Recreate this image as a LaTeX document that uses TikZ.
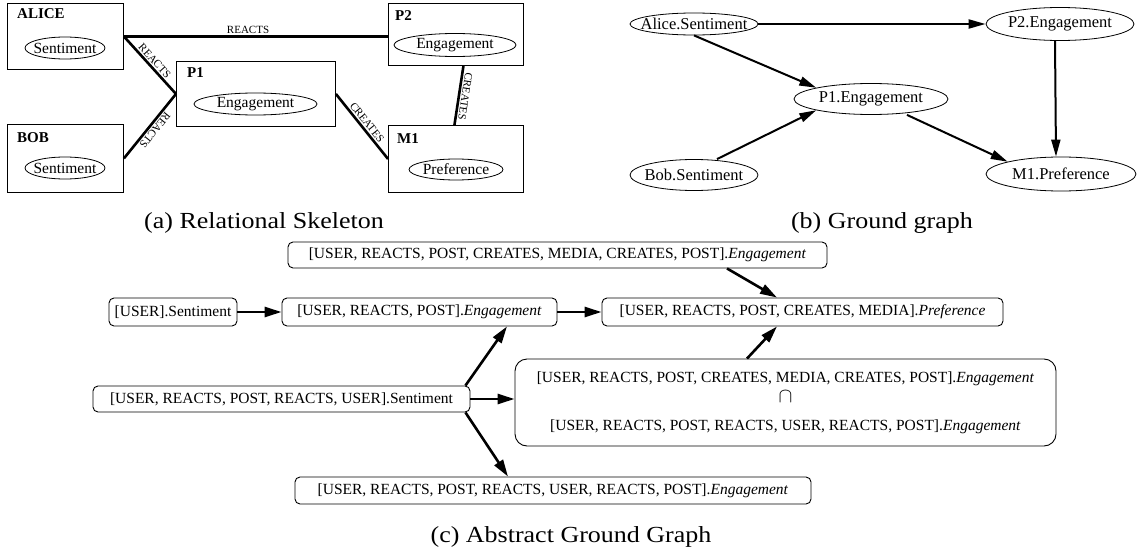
\documentclass[tikz,border=0pt]{standalone}
\usepackage{fontspec}
\setmainfont{Liberation Serif}
\newfontfamily\capfont{Liberation Serif}[FakeStretch=1.13]
\usetikzlibrary{arrows.meta,shapes.geometric,calc}
\begin{document}
\begin{tikzpicture}[x=1pt,y=-1pt,
  skbox/.style={draw, line width=0.9pt, inner sep=0pt, anchor=north west},
  skell/.style={draw, ellipse, line width=0.8pt, inner xsep=-40pt, inner ysep=-12pt, font=\fontsize{15.5}{18}\selectfont},
  sktitle/.style={anchor=base west, inner sep=0pt, font=\fontsize{15}{18}\selectfont\bfseries},
  skedge/.style={line width=2.6pt},
  sklbl/.style={font=\fontsize{11}{13}\selectfont, inner sep=1.5pt},
  gnode/.style={draw, ellipse, line width=0.8pt, inner xsep=-40pt, inner ysep=-12pt, font=\fontsize{16.5}{20}\selectfont},
  garrow/.style={line width=2pt, -{Triangle[length=17pt,width=9pt]}},
  abox/.style={draw, rounded corners=5pt, line width=0.9pt, inner sep=0pt, font=\fontsize{15.5}{18}\selectfont},
  aarrow/.style={line width=2.6pt, -{Triangle[length=17pt,width=10pt]}},
  captxt/.style={font=\capfont\fontsize{23}{28}\selectfont, inner sep=0pt}
]
\useasboundingbox (0,0) rectangle (1141,554);

% ---------- (a) Relational skeleton ----------
\node[skbox, minimum width=116pt, minimum height=66pt] (boxA) at (7,3) {};
\node[sktitle] (tA) at (17,18) {ALICE};
\node[skell, minimum width=80pt, minimum height=22pt] (eA) at (65,48) {Sentiment};
\node[skbox, minimum width=116pt, minimum height=68pt] (boxB) at (7,124) {};
\node[sktitle] (tB) at (17,142) {BOB};
\node[skell, minimum width=80pt, minimum height=22pt] (eB) at (65,168) {Sentiment};
\node[skbox, minimum width=159pt, minimum height=65pt] (boxP1) at (176,61) {};
\node[sktitle] (tP1) at (187,77) {P1};
\node[skell, minimum width=123pt, minimum height=22pt] (eP1) at (255.5,104) {Engagement};
\node[skbox, minimum width=135pt, minimum height=62pt] (boxP2) at (388,3) {};
\node[sktitle] (tP2) at (395,20) {P2};
\node[skell, minimum width=122pt, minimum height=23pt] (eP2) at (455,45) {Engagement};
\node[skbox, minimum width=135pt, minimum height=67pt] (boxM1) at (388,125) {};
\node[sktitle] (tM1) at (397,143) {M1};
\node[skell, minimum width=94pt, minimum height=21pt] (eM1) at (456,169.5) {Preference};

\draw[skedge] (boxA.east) -- node[sklbl, above, pos=0.47] {REACTS} (boxA.east -| boxP2.west);
\draw[skedge] (boxA.east) -- node[sklbl, sloped, above] {REACTS} (boxP1.west);
\draw[skedge] (boxP1.west) -- node[sklbl, sloped, above, allow upside down] {REACTS} (boxB.east);
\draw[skedge] (boxP1.east) -- node[sklbl, sloped, above] {CREATES} (boxM1.west);
\draw[skedge] ([xshift=7.5pt]boxP2.south) -- node[sklbl, sloped, above, allow upside down] {CREATES} ([xshift=-1.5pt]boxM1.north);

% ---------- (b) Ground graph ----------
\node[gnode, minimum width=128pt, minimum height=22pt] (gA) at (694,24) {Alice.Sentiment};
\node[gnode, minimum width=148pt, minimum height=33pt] (gP2) at (1060,24) {P2.Engagement};
\node[gnode, minimum width=154pt, minimum height=31pt] (gP1) at (871,99) {P1.Engagement};
\node[gnode, minimum width=128pt, minimum height=31pt] (gB) at (694,175) {Bob.Sentiment};
\node[gnode, minimum width=150pt, minimum height=34pt] (gM1) at (1061,174) {M1.Preference};

\draw[garrow] (gA.east) -- (gP2.west);
\draw[garrow] (gA.south) -- (gP1.north west);
\draw[garrow] ([xshift=23pt]gB.north) -- (gP1.south west);
\draw[garrow] ([xshift=36pt]gP1.south) -- (gM1.north west);
\draw[garrow] ([xshift=-5pt]gP2.south) -- ([xshift=-5pt]gM1.north);

% ---------- (c) Abstract ground graph ----------
\node[abox, minimum width=539pt, minimum height=26pt] (cTop) at (557.5,255) {[USER, REACTS, POST, CREATES, MEDIA, CREATES, POST].\textit{Engagement}};
\node[abox, minimum width=128pt, minimum height=28pt] (cS1) at (173,312) {[USER].Sentiment};
\node[abox, minimum width=275pt, minimum height=28pt] (cE1) at (419.5,312) {[USER, REACTS, POST].\textit{Engagement}};
\node[abox, minimum width=401pt, minimum height=28pt] (cPref) at (802.5,312) {[USER, REACTS, POST, CREATES, MEDIA].\textit{Preference}};
\node[abox, minimum width=377pt, minimum height=26pt] (cS2) at (281.5,399) {[USER, REACTS, POST, REACTS, USER].Sentiment};
\node[abox, rounded corners=12pt, minimum width=541pt, minimum height=87pt, align=center] (cInt) at (785.5,402.5)
  {[USER, REACTS, POST, CREATES, MEDIA, CREATES, POST].\textit{Engagement}\\[2pt]{\fontsize{21}{21}\selectfont$\cap$}\\[10pt][USER, REACTS, POST, REACTS, USER, REACTS, POST].\textit{Engagement}};
\node[abox, minimum width=516pt, minimum height=27pt] (cBot) at (553,490.5) {[USER, REACTS, POST, REACTS, USER, REACTS, POST].\textit{Engagement}};

\draw[aarrow] (cS1.east) -- (cE1.west);
\draw[aarrow] (cE1.east) -- (cPref.west);
\draw[aarrow] ([xshift=169.5pt]cTop.south) -- ([xshift=-25.5pt]cPref.north);
\draw[aarrow] ([xshift=-38.5pt]cInt.north) -- ([xshift=-25.5pt]cPref.south);
\draw[aarrow] ([xshift=-5pt]cS2.north east) -- ([xshift=87.5pt]cE1.south);
\draw[aarrow] (cS2.east) -- (cS2.east -| cInt.west);
\draw[aarrow] ([xshift=-5pt]cS2.south east) -- ([xshift=-45pt]cBot.north);

% ---------- captions ----------
\node[captxt] (capA) at (264,223) {(a) Relational Skeleton};
\node[captxt] (capB) at (882,223) {(b) Ground graph};
\node[captxt] (capC) at (571,537) {(c) Abstract Ground Graph};
\end{tikzpicture}
\end{document}
